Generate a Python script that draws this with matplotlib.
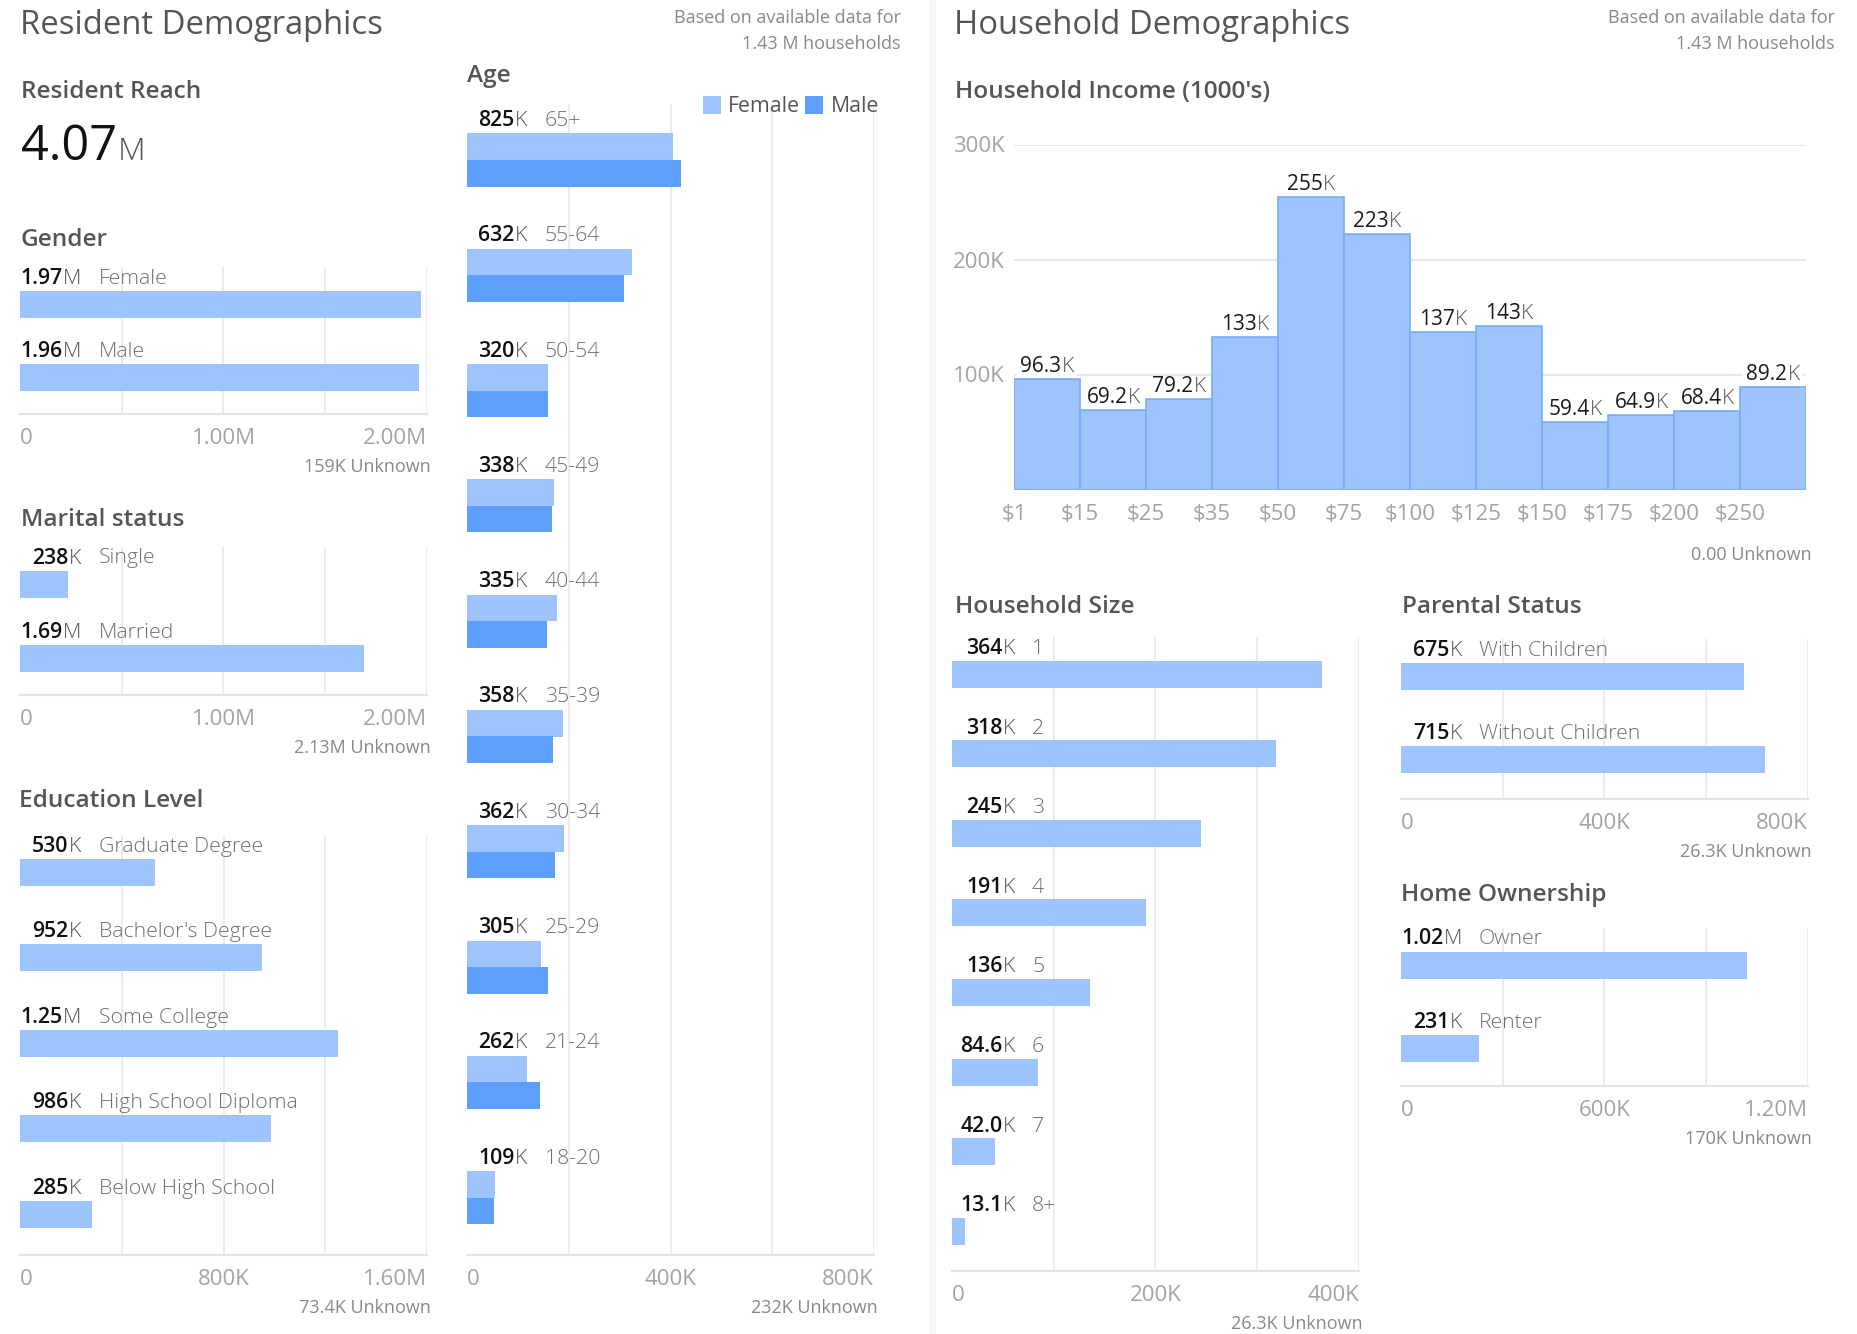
import matplotlib
matplotlib.use("Agg")
import matplotlib.pyplot as plt
import matplotlib.transforms as mtransforms
from matplotlib.patches import Rectangle
import numpy as np

plt.rcParams['font.family'] = ['Open Sans', 'DejaVu Sans']

# ---------------- data ----------------
resident_reach = 4.07e6
note_lines = ["Based on available data for", "1.43 M households"]

gender_cats = ["Female", "Male"]
gender_vals = [1.97e6, 1.96e6]
gender_unknown = "159K Unknown"

marital_cats = ["Single", "Married"]
marital_vals = [238e3, 1.69e6]
marital_unknown = "2.13M Unknown"

edu_cats = ["Graduate Degree", "Bachelor's Degree", "Some College",
            "High School Diploma", "Below High School"]
edu_vals = [530e3, 952e3, 1.25e6, 986e3, 285e3]
edu_unknown = "73.4K Unknown"

age_cats = ["65+", "55-64", "50-54", "45-49", "40-44", "35-39", "30-34",
            "25-29", "21-24", "18-20"]
age_total = [825e3, 632e3, 320e3, 338e3, 335e3, 358e3, 362e3, 305e3, 262e3, 109e3]
age_female = [404e3, 324e3, 160e3, 171e3, 177e3, 188e3, 190e3, 145e3, 118e3, 55e3]
age_male = [421e3, 308e3, 160e3, 167e3, 158e3, 170e3, 172e3, 160e3, 144e3, 54e3]
age_unknown = "232K Unknown"

income_labels = ["$1", "$15", "$25", "$35", "$50", "$75", "$100", "$125",
                 "$150", "$175", "$200", "$250"]
income_vals = [96.3e3, 69.2e3, 79.2e3, 133e3, 255e3, 223e3, 137e3, 143e3,
               59.4e3, 64.9e3, 68.4e3, 89.2e3]
income_yticks = [100e3, 200e3, 300e3]
income_unknown = "0.00 Unknown"

hh_cats = ["1", "2", "3", "4", "5", "6", "7", "8+"]
hh_vals = [364e3, 318e3, 245e3, 191e3, 136e3, 84.6e3, 42.0e3, 13.1e3]
hh_unknown = "26.3K Unknown"

parent_cats = ["With Children", "Without Children"]
parent_vals = [675e3, 715e3]
parent_unknown = "26.3K Unknown"

home_cats = ["Owner", "Renter"]
home_vals = [1.02e6, 231e3]
home_unknown = "170K Unknown"

# ---------------- style ----------------
LIGHT = '#9dc4fd'
DARK = '#5e9ffc'
INCOME_EDGE = '#78acfa'
GRID = '#ececec'
AXISLINE = '#e3e3e3'
TICK_C = '#a3a3a3'
UNK_C = '#888888'
TITLE_C = '#555555'
NUM_C = '#111111'
UNIT_C = '#555555'
CAT_C = '#6e6e6e'
NUM_SIZE = 15.3
LBL = 15.3
TICK_SIZE = 16
UNK_SIZE = 13
SEC = 17.6
MAIN = 23.6

W, H = 1858, 1334
fig = plt.figure(figsize=(W / 100, H / 100), dpi=100)
fig.patch.set_facecolor('white')
PX = mtransforms.Affine2D().scale(1, -1).translate(0, H)
renderer = fig.canvas.get_renderer()


def T(x, y, s, size, color, ha='left', weight='normal', **kw):
    return fig.text(x, y, s, transform=PX, fontsize=size, color=color, ha=ha,
                    va='baseline', fontweight=weight, **kw)


def width(s, size, weight='normal'):
    t = fig.text(0, 0, s, fontsize=size, fontweight=weight)
    w = t.get_window_extent(renderer).width
    t.remove()
    return w


def fmt(v):
    if v >= 1e6:
        return f"{v / 1e6:.2f}", "M"
    if v >= 1e5:
        return f"{v / 1e3:.0f}", "K"
    return f"{v / 1e3:.1f}", "K"


def tickfmt(v):
    if v == 0:
        return "0"
    if v >= 1e6:
        return f"{v / 1e6:.2f}M"
    return f"{v / 1e3:.0f}K"


def value_label(num_end, cat_x, y, v, cat):
    num, unit = fmt(v)
    wu = width(unit, LBL, 'light')
    T(num_end - wu, y, num, NUM_SIZE, NUM_C, ha='right', weight='semibold')
    T(num_end, y, unit, LBL, UNIT_C, ha='right', weight='light')
    T(cat_x, y, cat, LBL, CAT_C, weight='light')


def hbar(x0, x1, b0, sp, cats, series, colors, xmax, unknown, num_end, cat_x,
         offsets, bar_h, bottom, totals=None, top=None):
    n = len(cats)
    baselines = b0 + sp * np.arange(n)
    if top is None:
        top = b0 - 17
    ax = fig.add_axes([x0 / W, 1 - bottom / H, (x1 - x0) / W, (bottom - top) / H])
    ax.set_xlim(0, xmax)
    ax.set_ylim(bottom, top)
    ax.patch.set_alpha(0)
    for s in ['top', 'left', 'right']:
        ax.spines[s].set_visible(False)
    ax.spines['bottom'].set_color(AXISLINE)
    ax.spines['bottom'].set_linewidth(1.5)
    ax.set_xticks([])
    ax.set_yticks([])
    grid = np.linspace(0, xmax, 5)
    ax.vlines(grid[1:], top, bottom, color=GRID, lw=1.4, zorder=0)
    for s, c, off in zip(series, colors, offsets):
        ax.barh(baselines + off, s, height=bar_h, color=c, zorder=2)
    for v, ha in zip([0, xmax / 2, xmax], ['left', 'center', 'right']):
        ax.text(v, bottom + 30, tickfmt(v), ha=ha, va='baseline', fontsize=TICK_SIZE,
                color=TICK_C, clip_on=False)
    T(x1 + 4, bottom + 58, unknown, UNK_SIZE, UNK_C, ha='right')
    labs = totals if totals is not None else series[0]
    for yb, v, c in zip(baselines, labs, cats):
        value_label(num_end, cat_x, yb, v, c)
    return ax


# separator stripe
fig.add_artist(Rectangle((929, 0), 7, H, transform=PX, color='#f3f5f8', lw=0))

# ---------------- headers ----------------
T(20, 34, "Resident Demographics", MAIN, TITLE_C)
T(954, 34, "Household Demographics", MAIN, TITLE_C)
for xr in (901, 1835):
    T(xr, 23, note_lines[0], 13, UNK_C, ha='right')
    T(xr, 49, note_lines[1], 13, UNK_C, ha='right')

T(21, 98, "Resident Reach", SEC, TITLE_C, weight='semibold')
reach_str = f"{resident_reach / 1e6:.2f}"
T(21, 160, reach_str, 35, NUM_C)
T(21 + width(reach_str, 35) + 1, 160, "M", 23, UNIT_C, weight='light')

T(21, 246, "Gender", SEC, TITLE_C, weight='semibold')
T(21, 526, "Marital status", SEC, TITLE_C, weight='semibold')
T(19, 807, "Education Level", SEC, TITLE_C, weight='semibold')
T(467, 82, "Age", SEC, TITLE_C, weight='semibold')
T(955, 98, "Household Income (1000's)", SEC, TITLE_C, weight='semibold')
T(955, 613, "Household Size", SEC, TITLE_C, weight='semibold')
T(1402, 613, "Parental Status", SEC, TITLE_C, weight='semibold')
T(1401, 901, "Home Ownership", SEC, TITLE_C, weight='semibold')

# ---------------- left charts ----------------
hbar(20, 427, 284, 73, gender_cats, [gender_vals], [LIGHT], 2e6, gender_unknown,
     81, 99, [20.5], 27, bottom=414)
hbar(20, 427, 563.5, 74, marital_cats, [marital_vals], [LIGHT], 2e6, marital_unknown,
     81, 99, [20.5], 27, bottom=695)
hbar(20, 427, 852, 85.4, edu_cats, [edu_vals], [LIGHT], 1.6e6, edu_unknown,
     81, 99, [20.5], 27, bottom=1255)

# age
hbar(467, 874, 126, 115.3, age_cats, [age_female, age_male], [LIGHT, DARK], 800e3,
     age_unknown, 527, 545, [20.7, 47.3], 26.6, bottom=1255, totals=age_total, top=104)
fig.add_artist(Rectangle((703, 96), 18, 18, transform=PX, color=LIGHT, lw=0))
T(728, 111.5, "Female", LBL, '#555555')
fig.add_artist(Rectangle((805, 96), 18, 18, transform=PX, color=DARK, lw=0))
T(831, 111.5, "Male", LBL, '#555555')

# ---------------- income histogram ----------------
axi = fig.add_axes([1014 / W, 1 - 490 / H, 792 / W, 345 / H])
axi.set_xlim(0, len(income_vals))
axi.set_ylim(0, 300e3)
axi.patch.set_alpha(0)
for s in axi.spines.values():
    s.set_visible(False)
axi.set_xticks([])
axi.set_yticks([])
for v in income_yticks:
    axi.axhline(v, color='#e4e9f0', lw=1.5, zorder=0)
    axi.annotate(tickfmt(v), xy=(0, v), xycoords=('axes fraction', 'data'),
                 xytext=(-9, -7.5), textcoords='offset pixels', ha='right',
                 va='baseline', fontsize=TICK_SIZE, color=TICK_C, annotation_clip=False)
xpos = np.arange(len(income_vals))
axi.bar(xpos, income_vals, width=1, align='edge', color=LIGHT,
        edgecolor=INCOME_EDGE, lw=1.2, zorder=2)
for i, lab in enumerate(income_labels):
    axi.annotate(lab, xy=(i, 0), xytext=(0, -30), textcoords='offset pixels',
                 ha='center', va='baseline', fontsize=TICK_SIZE, color=TICK_C,
                 annotation_clip=False)
ISZ = 15
for i, v in enumerate(income_vals):
    num, unit = fmt(v)
    wn = width(num, ISZ)
    wu = width(unit, ISZ, 'light')
    tot = wn + wu
    xc = i + 0.5
    t1 = axi.annotate(num, xy=(xc, v), xytext=(-tot / 2, 7), textcoords='offset pixels',
                      ha='left', va='baseline', fontsize=ISZ, color='#1a1a1a', zorder=4,
                      annotation_clip=False)
    t2 = axi.annotate(unit, xy=(xc, v), xytext=(-tot / 2 + wn, 7), textcoords='offset pixels',
                      ha='left', va='baseline', fontsize=ISZ, color=UNIT_C, fontweight='light',
                      zorder=4, annotation_clip=False)
    e1 = t1.get_window_extent(renderer)
    e2 = t2.get_window_extent(renderer)
    bx0, by0 = min(e1.x0, e2.x0) - 3, min(e1.y0, e2.y0)
    bx1, by1 = max(e1.x1, e2.x1) + 3, max(e1.y1, e2.y1)
    axi.add_patch(Rectangle((bx0, by0), bx1 - bx0, by1 - by0,
                            transform=mtransforms.IdentityTransform(),
                            fc='white', ec='none', zorder=1, clip_on=False))
T(1812, 560, income_unknown, UNK_SIZE, UNK_C, ha='right')

# ---------------- right bar charts ----------------
hbar(952, 1359, 654, 79.6, hh_cats, [hh_vals], [LIGHT], 400e3, hh_unknown,
     1015, 1032, [20], 27, bottom=1271)
hbar(1401, 1808, 656, 83, parent_cats, [parent_vals], [LIGHT], 800e3, parent_unknown,
     1462, 1479, [20.5], 27, bottom=799)
hbar(1401, 1808, 944.5, 83, home_cats, [home_vals], [LIGHT], 1.2e6, home_unknown,
     1462, 1479, [20.5], 27, bottom=1086)

fig.savefig("out.png", dpi=100, facecolor='white')
